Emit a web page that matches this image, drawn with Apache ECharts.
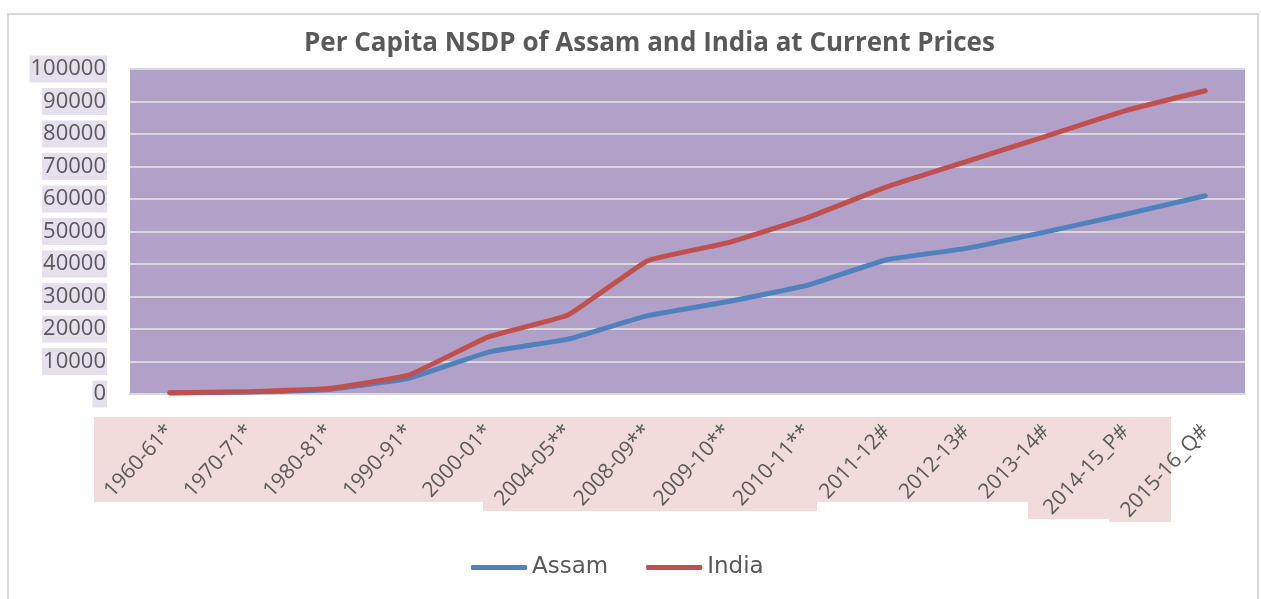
<!DOCTYPE html>
<html><head><meta charset="utf-8">
<title>Per Capita NSDP of Assam and India</title>
<script src="https://cdn.jsdelivr.net/npm/echarts@6/dist/echarts.min.js"></script>
<style type="text/css">
  body { margin: 0; background: #fff; }
  #chart { width: 1261px; height: 599px; }
</style>
</head>
<body>
<div id="chart"></div>
<script type="text/javascript">
var years = ['1960-61*', '1970-71*', '1980-81*', '1990-91*', '2000-01*', '2004-05**', '2008-09**',
             '2009-10**', '2010-11**', '2011-12#', '2012-13#', '2013-14#', '2014-15_P#', '2015-16_Q#'];
var assam = [300, 600, 1400, 4800, 12900, 16900, 24100, 28400, 33400, 41300, 44800, 49900, 55300, 61000];
var india = [400, 700, 1700, 5800, 17600, 24300, 41000, 46500, 54200, 63700, 71500, 79300, 87200, 93300];

var grey = '#595959';

// pink patches behind the category labels, like the excel label boxes
function patch(x1, x2, y2){
  return { type: 'rect', z: -10, shape: { x: x1, y: 417, width: x2 - x1, height: y2 - 417 },
           style: { fill: '#F2DCDB' } };
}

var chart = echarts.init(document.getElementById('chart'));
var option = {
  animation: false,
  title: {
    text: 'Per Capita NSDP of Assam and India at Current Prices',
    left: 299, top: 26,
    textStyle: { fontFamily: 'Open Sans', fontWeight: 'bold', fontSize: 26, color: grey }
  },
  graphic: [
    { type: 'rect', z: -20, shape: { x: 8, y: 14, width: 1250, height: 620 },
      style: { fill: '#fff', stroke: '#D9D9D9', lineWidth: 2 } },
    patch(94, 483, 502), patch(483, 817, 511), patch(817, 1028, 502),
    patch(1028, 1109, 519), patch(1109, 1171, 522)
  ],
  legend: {
    left: 466, top: 551,
    icon: 'roundRect',
    itemWidth: 56, itemHeight: 5, itemGap: 38,
    textStyle: { fontFamily: 'DejaVu Sans', fontSize: 23, color: grey },
    data: ['Assam', 'India']
  },
  grid: { left: 130, right: 16, top: 69, bottom: 205, show: true, backgroundColor: '#B1A0C7', borderWidth: 0 },
  xAxis: {
    type: 'category',
    data: years,
    axisLine: { lineStyle: { color: '#D9D9D9', width: 2 } },
    axisTick: { show: false },
    axisLabel: { rotate: 47, interval: 0, margin: 34, fontFamily: 'Open Sans', fontSize: 21, color: grey }
  },
  yAxis: {
    type: 'value', min: 0, max: 100000, interval: 10000,
    axisLine: { show: false },
    axisTick: { show: false },
    splitLine: { lineStyle: { color: '#D9D9D9', width: 2 } },
    axisLabel: {
      margin: 23, fontFamily: 'Open Sans', fontSize: 22, color: grey,
      formatter: function (v) { return String(v); },
      backgroundColor: '#E6E0EC', padding: [3, 1, 2, 1]
    }
  },
  series: [
    { name: 'Assam', type: 'line', data: assam, smooth: 0.1, symbol: 'none',
      lineStyle: { color: '#4F81BD', width: 5, cap: 'round' }, itemStyle: { color: '#4F81BD' } },
    { name: 'India', type: 'line', data: india, smooth: 0.1, symbol: 'none',
      lineStyle: { color: '#C0504D', width: 5, cap: 'round' }, itemStyle: { color: '#C0504D' } }
  ]
};
chart.setOption(option);
</script>
</body></html>
